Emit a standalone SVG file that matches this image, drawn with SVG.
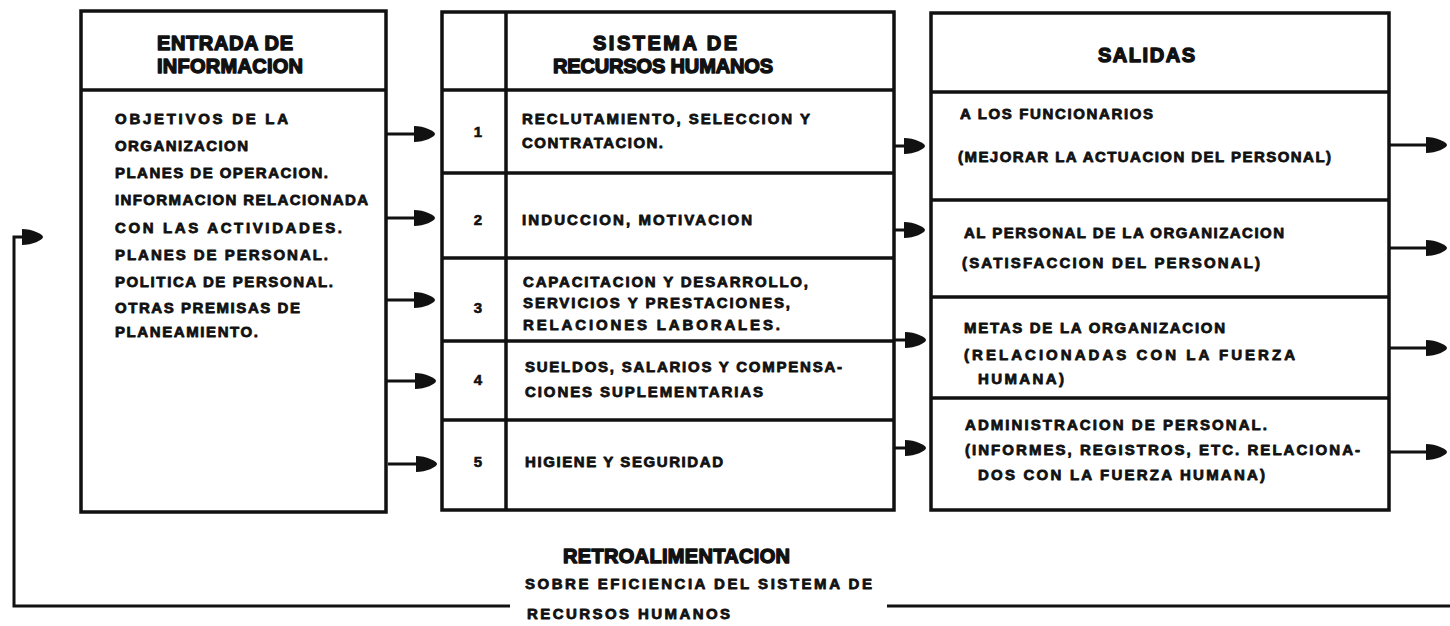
<svg xmlns="http://www.w3.org/2000/svg" width="1450" height="626" viewBox="0 0 1450 626">
<defs>
<style>
.box{fill:none;stroke:#111;stroke-width:3.5}
.div{stroke:#111;stroke-width:3.5}
.con{fill:none;stroke:#111;stroke-width:3}
.hd{font-family:"Liberation Sans",Arial,sans-serif;font-weight:bold;font-size:20px;fill:#111;stroke:#111;stroke-width:1.4;stroke-linejoin:round}
.tx{font-family:"Liberation Sans",Arial,sans-serif;font-weight:bold;font-size:15px;fill:#111;stroke:#111;stroke-width:0.8;stroke-linejoin:round}
.num{font-family:"Liberation Sans",Arial,sans-serif;font-weight:bold;font-size:15px;fill:#111;stroke:#111;stroke-width:0.6;text-anchor:middle}
</style>
<marker id="ah" viewBox="-10 -9 23 18" markerWidth="23" markerHeight="18" refX="0" refY="0" orient="auto" markerUnits="userSpaceOnUse">
<path d="M-9,-8 C1,-8 12,-3 12,0 C12,3 1,8 -9,8 Z" fill="#111"/>
</marker>
</defs>
<rect width="1450" height="626" fill="#fff"/>

<g id="entrada">
<rect class="box" x="81" y="11" width="305" height="501"/>
<line class="div" x1="81" y1="90" x2="386" y2="90"/>
<text class="hd" x="157" y="50" textLength="136" lengthAdjust="spacing">ENTRADA DE</text>
<text class="hd" x="157" y="73" textLength="146" lengthAdjust="spacing">INFORMACION</text>
<text class="tx" x="115" y="124" textLength="173" lengthAdjust="spacing">OBJETIVOS  DE  LA</text>
<text class="tx" x="115" y="151" textLength="133" lengthAdjust="spacing">ORGANIZACION</text>
<text class="tx" x="115" y="178" textLength="213" lengthAdjust="spacing">PLANES DE OPERACION.</text>
<text class="tx" x="115" y="205" textLength="253" lengthAdjust="spacing">INFORMACION RELACIONADA</text>
<text class="tx" x="115" y="233" textLength="227" lengthAdjust="spacing">CON LAS ACTIVIDADES.</text>
<text class="tx" x="115" y="260" textLength="213" lengthAdjust="spacing">PLANES DE PERSONAL.</text>
<text class="tx" x="115" y="287" textLength="218" lengthAdjust="spacing">POLITICA DE PERSONAL.</text>
<text class="tx" x="115" y="313" textLength="185" lengthAdjust="spacing">OTRAS PREMISAS DE</text>
<text class="tx" x="115" y="337" textLength="143" lengthAdjust="spacing">PLANEAMIENTO.</text>
</g>

<g id="sistema">
<rect class="box" x="442" y="12" width="452" height="498"/>
<line class="div" x1="506" y1="12" x2="506" y2="510"/>
<line class="div" x1="442" y1="90" x2="894" y2="90"/>
<line class="div" x1="442" y1="173" x2="894" y2="173"/>
<line class="div" x1="442" y1="258" x2="894" y2="258"/>
<line class="div" x1="442" y1="341" x2="894" y2="341"/>
<line class="div" x1="442" y1="420" x2="894" y2="420"/>
<text class="hd" x="593" y="50" textLength="144" lengthAdjust="spacing">SISTEMA DE</text>
<text class="hd" x="553" y="73" textLength="220" lengthAdjust="spacing">RECURSOS HUMANOS</text>
<text class="num" x="478" y="137">1</text>
<text class="num" x="478" y="225">2</text>
<text class="num" x="478" y="313">3</text>
<text class="num" x="478" y="385">4</text>
<text class="num" x="478" y="467">5</text>
<text class="tx" x="522" y="124" textLength="288" lengthAdjust="spacing">RECLUTAMIENTO, SELECCION Y</text>
<text class="tx" x="522" y="148" textLength="141" lengthAdjust="spacing">CONTRATACION.</text>
<text class="tx" x="522" y="225" textLength="230" lengthAdjust="spacing">INDUCCION, MOTIVACION</text>
<text class="tx" x="523" y="287" textLength="285" lengthAdjust="spacing">CAPACITACION Y DESARROLLO,</text>
<text class="tx" x="523" y="308" textLength="267" lengthAdjust="spacing">SERVICIOS Y PRESTACIONES,</text>
<text class="tx" x="523" y="330" textLength="257" lengthAdjust="spacing">RELACIONES LABORALES.</text>
<text class="tx" x="525" y="372" textLength="317" lengthAdjust="spacing">SUELDOS, SALARIOS Y COMPENSA-</text>
<text class="tx" x="525" y="397" textLength="238" lengthAdjust="spacing">CIONES SUPLEMENTARIAS</text>
<text class="tx" x="525" y="467" textLength="198" lengthAdjust="spacing">HIGIENE Y SEGURIDAD</text>
</g>

<g id="salidas">
<rect class="box" x="931" y="13" width="458" height="497"/>
<line class="div" x1="931" y1="92" x2="1389" y2="92"/>
<line class="div" x1="931" y1="200" x2="1389" y2="200"/>
<line class="div" x1="931" y1="297" x2="1389" y2="297"/>
<line class="div" x1="931" y1="398" x2="1389" y2="398"/>
<text class="hd" x="1098" y="62" textLength="97" lengthAdjust="spacing">SALIDAS</text>
<text class="tx" x="960" y="119" textLength="193" lengthAdjust="spacing">A LOS FUNCIONARIOS</text>
<text class="tx" x="958" y="162" textLength="373" lengthAdjust="spacing">(MEJORAR LA ACTUACION DEL PERSONAL)</text>
<text class="tx" x="964" y="238" textLength="320" lengthAdjust="spacing">AL PERSONAL DE LA ORGANIZACION</text>
<text class="tx" x="962" y="268" textLength="298" lengthAdjust="spacing">(SATISFACCION DEL PERSONAL)</text>
<text class="tx" x="964" y="333" textLength="261" lengthAdjust="spacing">METAS DE LA ORGANIZACION</text>
<text class="tx" x="964" y="360" textLength="331" lengthAdjust="spacing">(RELACIONADAS  CON  LA  FUERZA</text>
<text class="tx" x="978" y="384" textLength="86" lengthAdjust="spacing">HUMANA)</text>
<text class="tx" x="965" y="430" textLength="302" lengthAdjust="spacing">ADMINISTRACION DE PERSONAL.</text>
<text class="tx" x="965" y="455" textLength="395" lengthAdjust="spacing">(INFORMES, REGISTROS, ETC. RELACIONA-</text>
<text class="tx" x="978" y="480" textLength="287" lengthAdjust="spacing">DOS CON LA FUERZA HUMANA)</text>
</g>

<g id="retroalimentacion">
<text class="hd" x="563" y="563" textLength="227" lengthAdjust="spacing">RETROALIMENTACION</text>
<text class="tx" x="525" y="589" textLength="347" lengthAdjust="spacing">SOBRE EFICIENCIA DEL SISTEMA DE</text>
<text class="tx" x="527" y="619" textLength="203" lengthAdjust="spacing">RECURSOS HUMANOS</text>
</g>

<g id="connectors">
<line class="con" x1="386" y1="134" x2="423" y2="134" marker-end="url(#ah)"/>
<line class="con" x1="386" y1="218" x2="423" y2="218" marker-end="url(#ah)"/>
<line class="con" x1="386" y1="300" x2="423" y2="300" marker-end="url(#ah)"/>
<line class="con" x1="387" y1="381" x2="424" y2="381" marker-end="url(#ah)"/>
<line class="con" x1="388" y1="464" x2="425" y2="464" marker-end="url(#ah)"/>
<line class="con" x1="894" y1="146" x2="913" y2="146" marker-end="url(#ah)"/>
<line class="con" x1="894" y1="230" x2="913" y2="230" marker-end="url(#ah)"/>
<line class="con" x1="894" y1="340" x2="914" y2="340" marker-end="url(#ah)"/>
<line class="con" x1="895" y1="448" x2="914" y2="448" marker-end="url(#ah)"/>
<line class="con" x1="1389" y1="145" x2="1435" y2="145" marker-end="url(#ah)"/>
<line class="con" x1="1389" y1="248" x2="1435" y2="248" marker-end="url(#ah)"/>
<line class="con" x1="1389" y1="348" x2="1435" y2="348" marker-end="url(#ah)"/>
<line class="con" x1="1390" y1="452" x2="1435" y2="452" marker-end="url(#ah)"/>
<polyline class="con" points="510,606 14,606 14,237 31,237" marker-end="url(#ah)"/>
<line class="con" x1="887" y1="606" x2="1450" y2="606"/>
</g>
</svg>
